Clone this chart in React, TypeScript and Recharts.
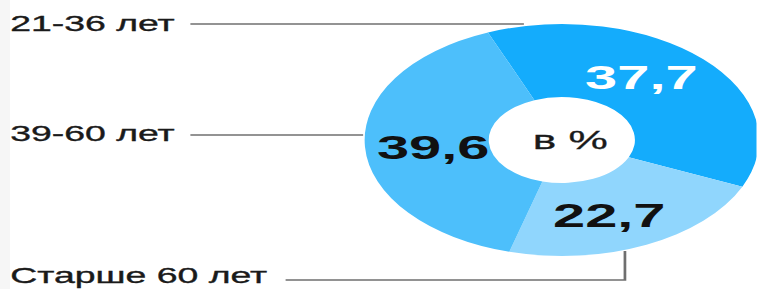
import React from "react";
import { PieChart, Pie, Cell } from "recharts";

// Возрастные группы, в %
const categories = ["21-36 лет", "Старше 60 лет", "39-60 лет"];
const values = [37.7, 22.7, 39.6];
const centerLabel = "в %";

const colors = ["#14acfc", "#90d6fd", "#4dbffb"];
const valueColors = ["#ffffff", "#111111", "#111111"];

const data = categories.map((name, i) => ({ name, value: values[i] }));

// the reference is stretched horizontally, so the chart is drawn narrow and scaled
const STRETCH = 1.7;
const W = 757 / STRETCH;
const H = 289;
const FONT = "'Liberation Sans', Arial, Helvetica, sans-serif";
const LINE = "#6f6f6f";

// where each category caption and its leader line go
const callouts = [
  { textY: 31.5, lineStartX: 112, lineY: 24, anchorAngle: 101, valueShift: 9, valueR: 78 },
  { textY: 283, lineStartX: 168, lineY: 280, anchorAngle: -71.5, valueShift: -5, valueR: 80 },
  { textY: 141.5, lineStartX: 112, lineY: 135, anchorAngle: 177.5, valueShift: 2, valueR: 76 },
];

const RAD = Math.PI / 180;

function renderLabel(props: any) {
  const { cx, cy, midAngle, outerRadius, index, value } = props;
  const c = callouts[index];
  const a = (midAngle + c.valueShift) * RAD;
  const vx = cx + c.valueR * Math.cos(a);
  const vy = cy - c.valueR * Math.sin(a);
  const ax = cx + (outerRadius + 1) * Math.cos(c.anchorAngle * RAD);
  const ay = cy - (outerRadius + 1) * Math.sin(c.anchorAngle * RAD);
  const points =
    index === 1
      ? `${c.lineStartX},${c.lineY} ${ax},${c.lineY} ${ax},${ay}`
      : `${c.lineStartX},${c.lineY} ${ax},${c.lineY}`;
  return (
    <g>
      <text
        x={vx}
        y={vy}
        textAnchor="middle"
        dominantBaseline="central"
        fill={valueColors[index]}
        fontFamily={FONT}
        fontWeight="bold"
        fontSize={34}
      >
        {String(value).replace(".", ",")}
      </text>
      <text
        x={6}
        y={c.textY}
        fill="#1a1a1a"
        stroke="#1a1a1a"
        strokeWidth={0.35}
        fontFamily={FONT}
        fontSize={22}
      >
        {categories[index]}
      </text>
      <polyline points={points} fill="none" stroke={LINE} strokeWidth={1.6} />
      {index === 0 && (
        <text
          x={cx + 5}
          y={cy}
          textAnchor="middle"
          dominantBaseline="central"
          fill="#1a1a1a"
          stroke="#1a1a1a"
          strokeWidth={0.3}
          fontFamily={FONT}
          fontSize={26}
        >
          {centerLabel}
        </text>
      )}
    </g>
  );
}

export default function App() {
  return (
    <div
      style={{
        position: "absolute",
        left: 0,
        top: 0,
        width: 757,
        height: H,
        background: "#ffffff",
        overflow: "hidden",
      }}
    >
      <div style={{ position: "absolute", left: 0, top: 0, width: 10, height: H, background: "#f6f6f6" }} />
      <div
        style={{
          position: "absolute",
          left: 0,
          top: 0,
          width: W,
          height: H,
          transform: `scaleX(${STRETCH})`,
          transformOrigin: "0 0",
        }}
      >
        <PieChart width={W} height={H} margin={{ top: 0, right: 0, bottom: 0, left: 0 }}>
          <Pie
            data={data}
            dataKey="value"
            nameKey="name"
            cx={330.5}
            cy={140}
            innerRadius={43}
            outerRadius={116}
            startAngle={112}
            endAngle={-248}
            stroke="none"
            label={renderLabel}
            labelLine={false}
            isAnimationActive={false}
          >
            {data.map((d, i) => (
              <Cell key={d.name} fill={colors[i]} />
            ))}
          </Pie>
        </PieChart>
      </div>
    </div>
  );
}
